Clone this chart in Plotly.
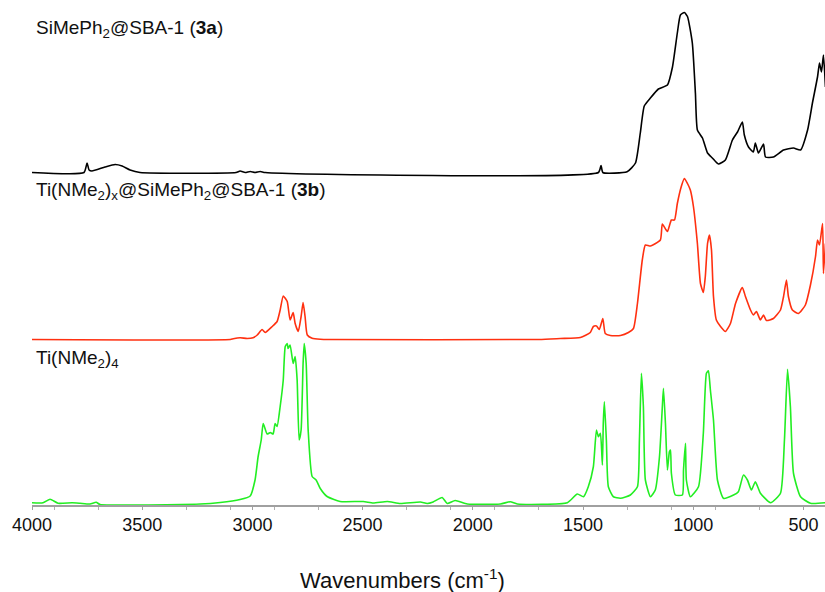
import plotly.graph_objects as go

# ---- data (wavenumber cm-1, relative absorbance above each trace's own baseline) ----
wn_3a = [4000, 3764, 3750, 3741, 3728, 3669, 3623, 3591, 3555, 3510, 3074, 3056, 3033, 3010, 2988,
         2965, 2942, 1430, 1418, 1410, 1300, 1262, 1240, 1222, 1194, 1158, 1117, 1094, 1072, 1058,
         1040, 1026, 1004, 990, 981, 958, 935, 913, 886, 854, 822, 799, 777, 768, 749, 727, 718,
         704, 681, 672, 636, 590, 545, 513, 481, 459, 436, 427, 418, 409, 400]
abs_3a = [0, 0, 1.9, 0.5, 0.3, 1.1, 1.6, 1.3, 0.5, 0, 0, 0.3, 0, 0.2, 0,
          0.2, 0, 0, 1.4, 0, 0.15, 1.9, 7.9, 13.3, 14.9, 16.7, 17.5, 21.1, 27.9, 31.5,
          32.0, 31.2, 25.9, 15.9, 8.5, 6.9, 3.9, 2.9, 1.7, 2.5, 6.5, 8.1, 10.1, 7.5, 5.1, 4.1, 5.9,
          3.9, 5.7, 3.1, 3.1, 4.5, 4.9, 4.5, 8.5, 13.9, 19.1, 21.9, 20.1, 23.5, 17.1]

wn_3b = [4000, 3100, 3087, 3056, 3024, 2997, 2978, 2956, 2942, 2910, 2888, 2874, 2860, 2842, 2829,
         2815, 2806, 2792, 2779, 2770, 2761, 2751, 2729, 2692, 2650, 1700, 1603, 1512, 1467, 1453,
         1439, 1426, 1410, 1399, 1376, 1330, 1294, 1271, 1253, 1231, 1217, 1194, 1149, 1140, 1117,
         1099, 1085, 1072, 1054, 1040, 1026, 1013, 999, 981, 967, 954, 945, 935, 926, 917, 908,
         895, 876, 854, 831, 808, 777, 763, 740, 727, 713, 695, 681, 668, 636, 604, 590, 577,
         568, 550, 522, 491, 468, 445, 436, 427, 413, 409, 400]
abs_3b = [0, 0, 0.15, 0.35, 0.2, 0.35, 0.9, 2.0, 1.4, 2.6, 3.6, 5.9, 8.7, 7.6, 3.9,
          5.4, 3.2, 1.6, 4.6, 7.4, 4.6, 0.9, 0.25, 0.05, 0, 0, 0.2, 0.4, 1.4, 2.6,
          2.7, 2.0, 4.2, 1.2, 0.8, 0.8, 1.4, 2.2, 7.2, 15.9, 18.9, 18.7, 19.9, 23.1, 21.6,
          23.9, 23.9, 27.2, 30.6, 32.2, 31.2, 29.9, 26.6, 19.2, 11.2, 9.4, 12.6, 19.2, 20.9, 17.9, 8.6,
          3.9, 2.6, 1.6, 3.2, 7.2, 10.4, 8.6, 5.9, 4.9, 5.6, 3.9, 4.9, 3.8, 4.2, 5.9, 8.6, 11.9,
          8.6, 5.9, 5.2, 6.9, 10.9, 16.6, 19.9, 18.9, 23.2, 13.2, 19.2]

wn_ti = [4000, 3950, 3918, 3882, 3818, 3782, 3737, 3709, 3691, 3237, 3146, 3056, 3010, 2988, 2974,
         2960, 2951, 2933, 2919, 2906, 2897, 2888, 2874, 2860, 2851, 2842, 2838, 2829, 2815, 2806,
         2797, 2788, 2779, 2770, 2765, 2756, 2747, 2729, 2711, 2692, 2661, 2602, 2497, 2452, 2388,
         2329, 2238, 2207, 2180, 2139, 2116, 2080, 2025, 1875, 1830, 1798, 1571, 1526, 1498, 1476,
         1453, 1439, 1430, 1421, 1412, 1408, 1403, 1394, 1385, 1362, 1330, 1285, 1253, 1244, 1235,
         1226, 1217, 1194, 1172, 1153, 1140, 1135, 1126, 1117, 1108, 1103, 1099, 1081, 1049, 1044,
         1035, 1031, 1013, 976, 954, 940, 931, 922, 908, 890, 863, 817, 795, 772, 754, 736, 718,
         695, 649, 604, 586, 572, 559, 545, 513, 468, 400]
abs_ti = [0.35, 0.35, 1.05, 0.25, 0.35, 0.25, 0.1, 0.45, 0, 0.1, 0.4, 1.0, 1.7, 4.9, 9.6,
          12.9, 16.2, 14.1, 14.4, 14.1, 16.2, 15.6, 19.6, 24.9, 31.6, 32.2, 31.2, 31.9, 28.2, 29.6,
          24.9, 12.9, 14.9, 28.2, 32.2, 28.2, 14.9, 5.6, 4.9, 3.2, 1.6, 0.6, 0.6, 0.3, 0.6,
          0.2, 0.5, 0.2, 0.5, 1.4, 0.2, 0.8, 0.1, 0.1, 0.55, 0.1, 0.35, 2.1, 1.55, 3.55,
          7.55, 14.9, 13.55, 14.25, 7.9, 16.25, 20.55, 12.9, 3.55, 1.55, 1.25, 1.9, 3.55, 12.9, 26.25,
          19.55, 4.9, 1.55, 2.9, 9.55, 19.55, 23.25, 16.25, 6.9, 10.55, 10.9, 6.25, 1.9, 1.9, 6.9,
          12.25, 4.9, 1.55, 3.55, 14.25, 26.25, 26.75, 22.9, 16.9, 4.9, 1.25, 1.9, 2.55, 5.9, 4.9, 2.9, 4.55,
          2.25, 0.35, 2.25, 12.9, 27.05, 19.55, 6.25, 1.55, 0.25, 0.35]

tick_vals = [4000, 3500, 3000, 2500, 2000, 1500, 1000, 500]

# vertical stacking offsets of the three spectra
off_3a, off_3b, off_ti = 66.5, 33.1, 0.1

line_shape = dict(shape="spline", smoothing=0.5)

fig = go.Figure()
fig.add_trace(go.Scatter(x=wn_3a, y=[v + off_3a for v in abs_3a], mode="lines",
                         line=dict(color="#000000", width=1.6, **line_shape), showlegend=False))
fig.add_trace(go.Scatter(x=wn_3b, y=[v + off_3b for v in abs_3b], mode="lines",
                         line=dict(color="#ff3010", width=1.6, **line_shape), showlegend=False))
fig.add_trace(go.Scatter(x=wn_ti, y=[v + off_ti for v in abs_ti], mode="lines",
                         line=dict(color="#22ee22", width=1.6, **line_shape), showlegend=False))

font_main = "Arial, Liberation Sans, sans-serif"

fig.update_layout(
    width=825, height=592,
    margin=dict(l=32, r=0, t=5, b=87),
    paper_bgcolor="white", plot_bgcolor="white",
    font=dict(family=font_main, color="#111111"),
    xaxis=dict(range=[4000, 402], tickvals=tick_vals, ticktext=[str(t) for t in tick_vals],
               showline=True, linecolor="#a0a0a0", linewidth=1.5,
               ticks="outside", ticklen=3, tickcolor="#a0a0a0",
               minor=dict(ticks="outside", ticklen=3, tickcolor="#b0b0b0", tick0=500, dtick=200),
               showgrid=False, zeroline=False, tickfont=dict(size=18, family=font_main)),
    yaxis=dict(range=[0, 100], visible=False, showgrid=False, zeroline=False),
    annotations=[
        dict(text="SiMePh<sub>2</sub>@SBA-1 (<b>3a</b>)", xref="paper", yref="paper",
             x=0.003, y=0.952, xanchor="left", yanchor="middle", showarrow=False,
             font=dict(size=19, family=font_main, color="#111111")),
        dict(text="Ti(NMe<sub>2</sub>)<sub>x</sub>@SiMePh<sub>2</sub>@SBA-1 (<b>3b</b>)", xref="paper", yref="paper",
             x=0.003, y=0.628, xanchor="left", yanchor="middle", showarrow=False,
             font=dict(size=19, family=font_main, color="#111111")),
        dict(text="Ti(NMe<sub>2</sub>)<sub>4</sub>", xref="paper", yref="paper",
             x=0.003, y=0.292, xanchor="left", yanchor="middle", showarrow=False,
             font=dict(size=19, family=font_main, color="#111111")),
        dict(text="Wavenumbers (cm<sup>-1</sup>)", xref="paper", yref="paper",
             x=0.4666, y=-0.148, xanchor="center", yanchor="middle", showarrow=False,
             font=dict(size=22, family=font_main, color="#111111")),
    ],
)

fig.write_html("out.html")
